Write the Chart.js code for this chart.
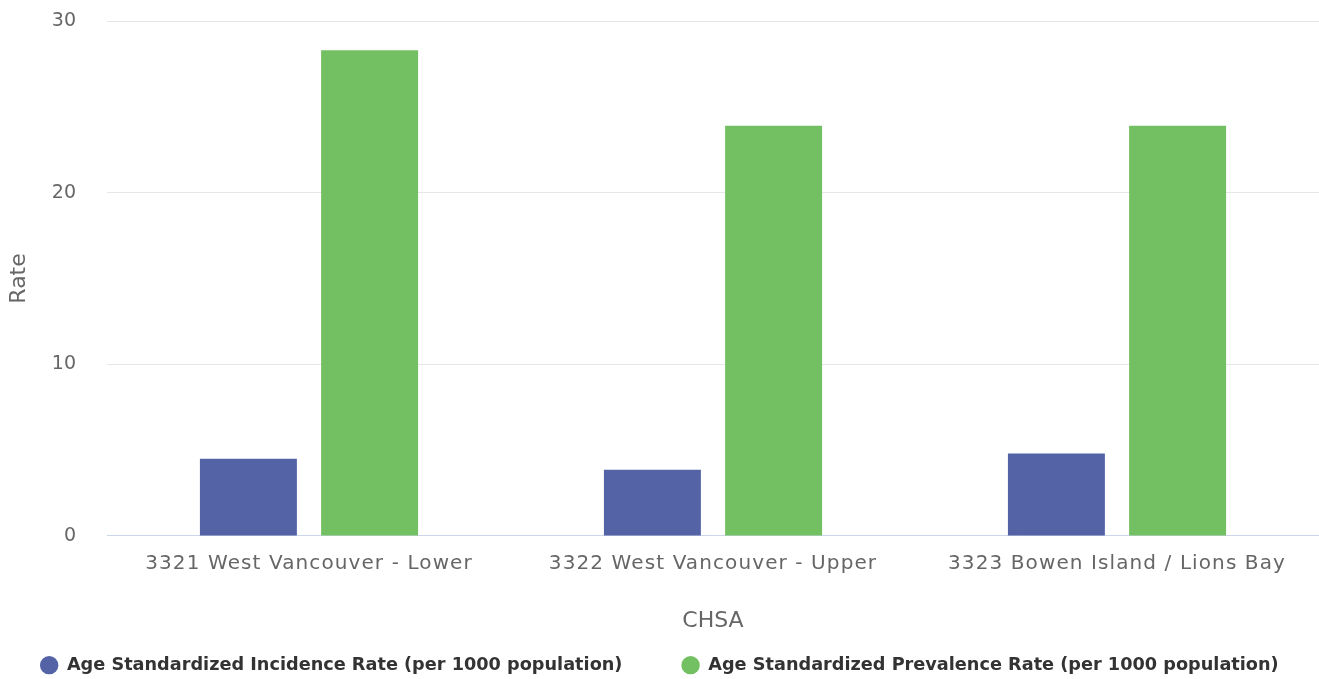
<!DOCTYPE html>
<html>
<head>
<meta charset="utf-8">
<script src="https://cdn.jsdelivr.net/npm/chart.js@4/dist/chart.umd.min.js"></script>
<style>
html,body{margin:0;padding:0;background:#fff;}
#wrap{width:1319px;height:679px;position:relative;overflow:hidden;}
</style>
</head>
<body>
<div id="wrap"><canvas id="c" width="1319" height="679"></canvas></div>
<script>
const categories = ["3321 West Vancouver - Lower", "3322 West Vancouver - Upper", "3323 Bowen Island / Lions Bay"];
const incidence = [4.5, 3.85, 4.8];
const prevalence = [28.3, 23.9, 23.9];
const seriesNames = ["Age Standardized Incidence Rate (per 1000 population)", "Age Standardized Prevalence Rate (per 1000 population)"];
const yTicks = [0, 10, 20, 30];

const FONT = "DejaVu Sans";

const xSpacing = {
  id: 'xSpacing',
  beforeDraw(chart) {
    const sc = chart.scales.x;
    if (sc && !sc._spacedPatch) {
      const orig = sc.drawLabels.bind(sc);
      sc.drawLabels = function (area) {
        const ctx = this.ctx;
        const prev = ctx.letterSpacing;
        ctx.letterSpacing = '1.1px';
        orig(area);
        ctx.letterSpacing = prev || '0px';
      };
      sc._spacedPatch = true;
    }
  }
};

new Chart(document.getElementById('c'), {
  type: 'bar',
  data: {
    labels: categories,
    datasets: [
      { label: seriesNames[0], data: incidence, backgroundColor: '#5363a5', borderWidth: 0, categoryPercentage: 0.6, barPercentage: 0.8 },
      { label: seriesNames[1], data: prevalence, backgroundColor: '#73c062', borderWidth: 0, categoryPercentage: 0.6, barPercentage: 0.8 }
    ]
  },
  plugins: [xSpacing],
  options: {
    responsive: false,
    animation: false,
    devicePixelRatio: 1,
    layout: { padding: { top: 21, right: 0, bottom: -5, left: 0 } },
    plugins: {
      tooltip: { enabled: false },
      legend: {
        position: 'bottom',
        labels: {
          usePointStyle: true,
          pointStyle: 'circle',
          boxHeight: 13,
          color: '#333333',
          font: { family: FONT, size: 17.7, weight: 'bold' },
          padding: 10,
          generateLabels: (chart) => {
            const items = Chart.defaults.plugins.legend.labels.generateLabels(chart);
            items.forEach((it, i) => { if (i < items.length - 1) it.text = it.text + ' '.repeat(8); });
            return items;
          }
        }
      }
    },
    scales: {
      x: {
        grid: { display: false, drawTicks: false },
        border: { display: true, color: '#ccd6eb', width: 1 },
        ticks: { color: '#666666', font: { family: FONT, size: 20 }, padding: 16, maxRotation: 0, autoSkip: false },
        title: { display: true, text: 'CHSA', color: '#666666', font: { family: FONT, size: 22 }, padding: { top: 16, bottom: 12 } }
      },
      y: {
        min: 0, max: 30,
        afterFit: s => { s.width = 107; },
        afterBuildTicks: s => { s.ticks = yTicks.map(v => ({ value: v })); },
        grid: { color: '#e6e6e6', drawTicks: true, tickLength: 28, tickColor: 'rgba(0,0,0,0)' },
        border: { display: false },
        ticks: { color: '#666666', font: { family: FONT, size: 19 }, padding: 3 },
        title: { display: true, text: 'Rate', color: '#666666', font: { family: FONT, size: 22 }, padding: { top: 6, bottom: 0 } }
      }
    }
  }
});
</script>
</body>
</html>
